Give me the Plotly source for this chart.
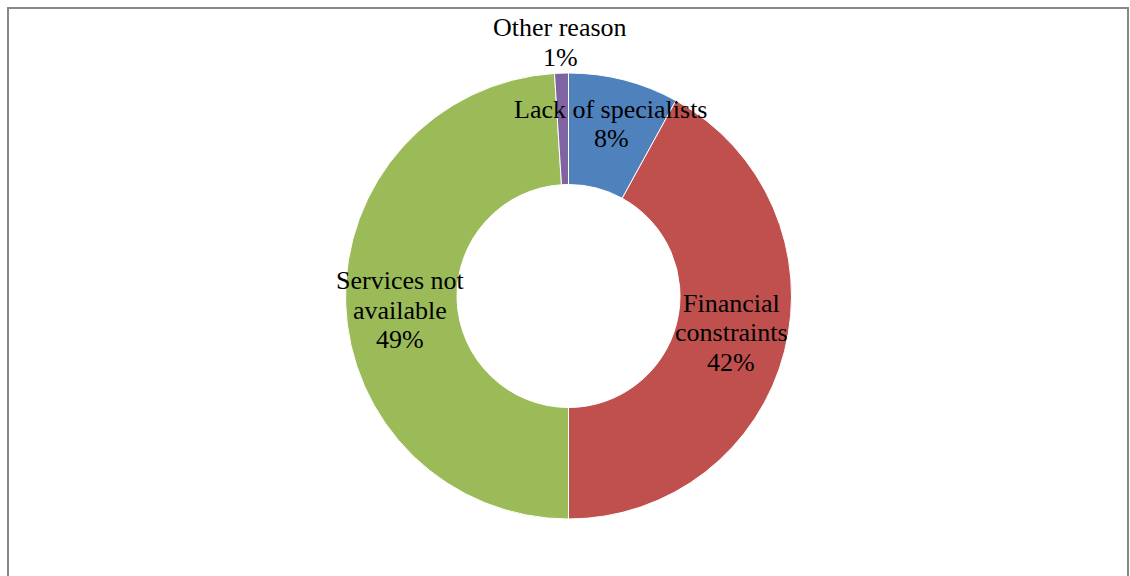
import plotly.graph_objects as go

# Reasons and their shares (percent)
reasons = ["Lack of specialists", "Financial constraints", "Services not available", "Other reason"]
shares = [8, 42, 49, 1]
colors = ["#4F81BD", "#C0504D", "#9BBB59", "#8064A2"]

# Line-broken versions of the reason names for the slice labels
label_lines = [["Lack of specialists"], ["Financial", "constraints"], ["Services not", "available"], ["Other reason"]]

W, H = 1130, 576
cx, cy, R = 568.5, 296, 223  # ring centre and outer radius in pixels

fig = go.Figure(
    go.Pie(
        labels=reasons,
        values=shares,
        hole=0.5,
        sort=False,
        direction="clockwise",
        rotation=0,
        marker=dict(colors=colors, line=dict(color="white", width=1)),
        textinfo="none",
        hoverinfo="skip",
        showlegend=False,
        domain=dict(x=[(cx - R) / W, (cx + R) / W], y=[(H - cy - R) / H, (H - cy + R) / H]),
    )
)

# Label block centres (pixels) for each slice and the line pitch
label_pos = [(611, 124), (731, 332.5), (400, 310), (560, 42.5)]
line_pitch = 29.5

for name_lines, v, (px, py) in zip(label_lines, shares, label_pos):
    lines = name_lines + [f"{v}%"]
    n = len(lines)
    for i, t in enumerate(lines):
        y = py + (i - (n - 1) / 2) * line_pitch
        fig.add_annotation(
            x=px / W, y=1 - y / H, xref="paper", yref="paper",
            text=t, showarrow=False,
            xanchor="center", yanchor="middle",
            font=dict(family="Liberation Serif, Times New Roman, serif", size=26, color="black"),
        )

# Chart frame
fig.add_shape(
    type="rect", xref="paper", yref="paper",
    x0=8 / W, x1=1128 / W, y0=-0.1, y1=1 - 8 / H,
    line=dict(color="#888888", width=2), fillcolor="rgba(0,0,0,0)",
)

fig.update_layout(
    width=W, height=H,
    margin=dict(l=0, r=0, t=0, b=0),
    paper_bgcolor="white", plot_bgcolor="white",
)

fig.write_html("out.html")
